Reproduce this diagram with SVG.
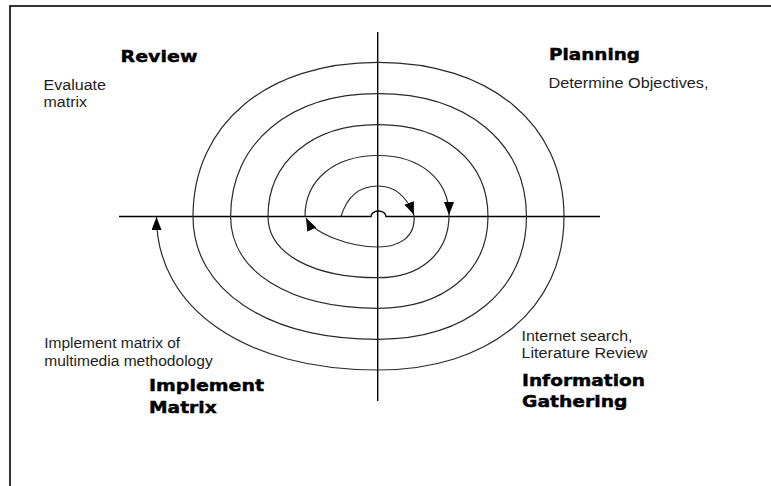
<svg xmlns="http://www.w3.org/2000/svg" width="771" height="486" viewBox="0 0 771 486">
<style>
.body{font-family:"Liberation Sans",Arial,sans-serif;font-size:15.5px;fill:#1e1e1e;}
.head{font-family:"DejaVu Sans","Liberation Sans",sans-serif;font-size:16.5px;font-weight:bold;fill:#000;stroke:#000;stroke-width:0.45;}
.axis{fill:none;stroke:#000;stroke-width:1.4;}
.spiral{fill:none;stroke:#2a2a2a;stroke-width:1.2;}
</style>
<defs>
<marker id="arr" viewBox="0 0 13 10" refX="13" refY="5" markerWidth="13" markerHeight="10" markerUnits="userSpaceOnUse" orient="auto">
<path d="M0,0 L13,5 L0,10 z" fill="#000"/>
</marker>
</defs>
<rect x="0" y="0" width="771" height="486" fill="#fff"/>
<rect id="frame" x="10" y="6" width="800" height="520" fill="none" stroke="#000" stroke-width="1.6"/>
<g id="axes">
<path class="axis" d="M377.7,32 V401"/>
<path class="axis" d="M119,216.5 H371 A7.5,5.5 0 0 1 386,216.5 H600"/>
</g>
<g id="connectors">
<path class="spiral" marker-end="url(#arr)" d="M341,216.5 C346,200 356,186 378,186 C398,186 408,200 414,215"/>
<path class="spiral" marker-end="url(#arr)" d="M414,215 C416,238 398,247 378,247 C350,247 314,234 306,218"/>
<path class="spiral" marker-end="url(#arr)" d="M305,216.5 C305,179.9 334.2,155.5 378,155.5 C420.6,155.5 449,179.9 449,215"/>
<path class="spiral" marker-end="url(#arr)" d="M449,215 C449,253.2 420.6,277.7 378,277.7 C312,277.7 268,253.2 268,216.5 C268,161.4 312,124.7 378,124.7 C444,124.7 488,161.4 488,216.5 C488,271.6 444,308.3 378,308.3 C289.6,308.3 230.6,271.6 230.6,216.5 C230.6,142.8 289.6,93.7 378,93.7 C467.1,93.7 526.5,142.8 526.5,216.5 C526.5,290.2 467.1,339.3 378,339.3 C267,339.3 193,290.2 193,216.5 C193,124 267,62.3 378,62.3 C489.6,62.3 564,124 564,216.5 C564,308.6 489.6,370 378,370 C245.1,370 156.5,308.6 156.5,217"/>
</g>
<g id="review">
<text class="head" x="120.5" y="62" textLength="77" lengthAdjust="spacingAndGlyphs">Review</text>
<text class="body" x="43.5" y="89.5" textLength="62.5" lengthAdjust="spacingAndGlyphs">Evaluate</text>
<text class="body" x="43.5" y="106.5" textLength="43.5" lengthAdjust="spacingAndGlyphs">matrix</text>
</g>
<g id="planning">
<text class="head" x="549" y="59.5" textLength="91" lengthAdjust="spacingAndGlyphs">Planning</text>
<text class="body" x="548.5" y="88.3" textLength="160" lengthAdjust="spacingAndGlyphs">Determine Objectives,</text>
</g>
<g id="implement">
<text class="body" x="44.2" y="348.3" textLength="136" lengthAdjust="spacingAndGlyphs">Implement matrix of</text>
<text class="body" x="44.2" y="365.5" textLength="168.5" lengthAdjust="spacingAndGlyphs">multimedia methodology</text>
<text class="head" x="149" y="391" textLength="115" lengthAdjust="spacingAndGlyphs">Implement</text>
<text class="head" x="149" y="413.3" textLength="67.7" lengthAdjust="spacingAndGlyphs">Matrix</text>
</g>
<g id="information">
<text class="body" x="521.5" y="341" textLength="111" lengthAdjust="spacingAndGlyphs">Internet search,</text>
<text class="body" x="521.5" y="357.5" textLength="126" lengthAdjust="spacingAndGlyphs">Literature Review</text>
<text class="head" x="522" y="385.5" textLength="123" lengthAdjust="spacingAndGlyphs">Information</text>
<text class="head" x="522" y="407" textLength="105.5" lengthAdjust="spacingAndGlyphs">Gathering</text>
</g>
</svg>
